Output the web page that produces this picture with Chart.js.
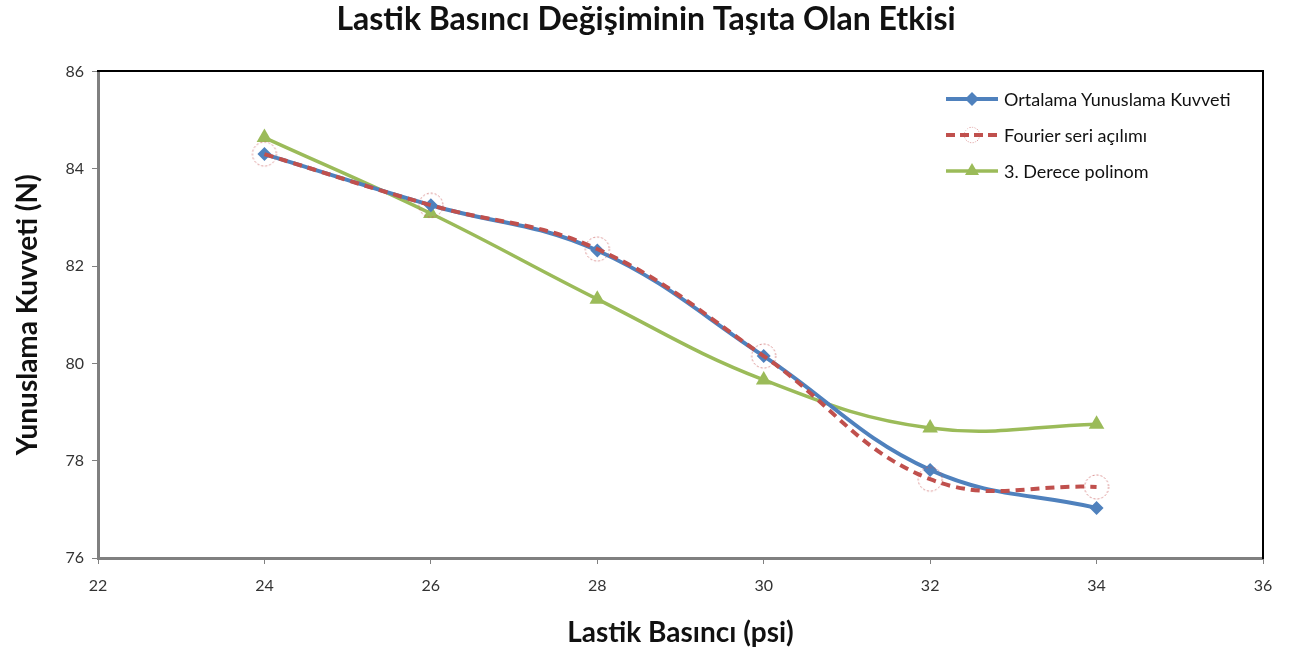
<!DOCTYPE html>
<html>
<head>
<meta charset="utf-8">
<script src="https://cdn.jsdelivr.net/npm/chart.js@4.4.0/dist/chart.umd.min.js"></script>
<style>
  html, body { margin: 0; padding: 0; background: #fff; }
  #wrap { position: relative; width: 1292px; height: 654px; }
  #legend { position: absolute; left: 944px; top: 81px; font-family: Lato, sans-serif; font-size: 18px; color: #111; }
  #legend div { height: 36px; display: flex; align-items: center; }
  #legend canvas { margin-right: 4px; }
</style>
</head>
<body>
<div id="wrap">
  <canvas id="chart" width="1292" height="654"></canvas>
  <div id="legend"></div>
</div>
<script>
// Tyre pressure (psi)
const pressures = [24, 26, 28, 30, 32, 34];
// Series values
const meanForce = [84.30, 83.25, 82.32, 80.15, 77.81, 77.03];
const fourierFit = [84.30, 83.25, 82.35, 80.15, 77.62, 77.46];
const cubicFit = [84.64, 83.08, 81.32, 79.66, 78.67, 78.75];

const xTicks = [22, 24, 26, 28, 30, 32, 34, 36];
const yTicks = [76, 78, 80, 82, 84, 86];

const seriesNames = ["Ortalama Yunuslama Kuvveti", "Fourier seri açılımı", "3. Derece polinom"];

const BLUE = "#4F81BD";
const RED = "#C0504D";
const GREEN = "#9BBB59";

// Dotted circle used as the Fourier marker
function dottedCircle(r) {
    const c = document.createElement("canvas");
    c.width = c.height = 2 * r + 4;
    const g = c.getContext("2d");
    g.strokeStyle = "rgba(200,90,90,0.7)";
    g.lineWidth = 1;
    g.setLineDash([2, 2]);
    g.beginPath();
    g.arc(r + 2, r + 2, r, 0, Math.PI * 2);
    g.stroke();
    return c;
}
const circleMarker = dottedCircle(12);

function toPoints(ys) {
    return pressures.map((x, i) => ({ x: x, y: ys[i] }));
}

const datasets = [
    {
        label: seriesNames[0],
        data: toPoints(meanForce),
        borderColor: BLUE,
        backgroundColor: BLUE,
        borderWidth: 4,
        pointStyle: "rectRot",
        pointRadius: 7,
        pointBorderWidth: 0,
        tension: 0.4,
        order: 2
    },
    {
        label: seriesNames[1],
        data: toPoints(fourierFit),
        borderColor: RED,
        borderWidth: 4,
        borderDash: [9, 6],
        pointStyle: circleMarker,
        tension: 0.4,
        order: 1
    },
    {
        label: seriesNames[2],
        data: toPoints(cubicFit),
        borderColor: GREEN,
        backgroundColor: GREEN,
        borderWidth: 3.5,
        pointStyle: "triangle",
        pointRadius: 9,
        pointBorderWidth: 0,
        tension: 0.4,
        order: 3
    }
];

const tickFont = { family: "Lato", size: 16 };
const titleFont = { family: "Lato", size: 28, weight: "bold" };

const config = {
    type: "line",
    data: { datasets: datasets },
    options: {
        responsive: false,
        animation: false,
        layout: { padding: 0 },
        plugins: {
            legend: { display: false },
            tooltip: { enabled: false },
            title: {
                display: true,
                text: "Lastik Basıncı Değişiminin Taşıta Olan Etkisi",
                color: "#111",
                font: { family: "Lato", size: 32, weight: "bold" },
                padding: { top: 0, bottom: 0 }
            }
        },
        scales: {
            x: {
                type: "linear",
                min: 22, max: 36,
                afterBuildTicks: s => { s.ticks = xTicks.map(v => ({ value: v })); },
                afterFit: s => { s.height = 96; },
                border: { color: "#808080", width: 3 },
                grid: { drawOnChartArea: false, tickLength: 6, color: "#808080" },
                ticks: { color: "#333", font: tickFont, padding: 12 },
                title: {
                    display: true,
                    text: "Lastik Basıncı (psi)",
                    color: "#111",
                    font: titleFont,
                    padding: { top: 0, bottom: 4 }
                }
            },
            y: {
                min: 76, max: 86,
                afterBuildTicks: s => { s.ticks = yTicks.map(v => ({ value: v })); },
                afterFit: s => { s.width = 98; },
                border: { color: "#808080", width: 3 },
                grid: { drawOnChartArea: false, tickLength: 6, color: "#808080" },
                ticks: { color: "#333", font: tickFont, padding: 8 },
                title: {
                    display: true,
                    text: "Yunuslama Kuvveti (N)",
                    color: "#111",
                    font: titleFont,
                    padding: { top: 11, bottom: 0 }
                }
            },
            x2: {
                type: "linear",
                position: "top",
                min: 22, max: 36,
                afterFit: s => { s.height = 33; },
                border: { color: "#000", width: 2 },
                grid: { display: false },
                ticks: { display: false }
            },
            y2: {
                position: "right",
                min: 76, max: 86,
                afterFit: s => { s.width = 29; },
                border: { color: "#000", width: 2 },
                grid: { display: false },
                ticks: { display: false }
            }
        }
    }
};

const ctx = document.getElementById("chart").getContext("2d");
const chart = new Chart(ctx, config);

// Legend with line + marker icons
function legendIcon(i) {
    const c = document.createElement("canvas");
    c.width = 56; c.height = 24;
    const g = c.getContext("2d");
    const ds = datasets[i];
    g.strokeStyle = ds.borderColor;
    g.lineWidth = ds.borderWidth;
    if (ds.borderDash) g.setLineDash([9, 5]);
    g.beginPath(); g.moveTo(2, 12); g.lineTo(54, 12); g.stroke();
    g.setLineDash([]);
    if (i === 0) {
        g.fillStyle = BLUE;
        g.beginPath(); g.moveTo(28, 5); g.lineTo(35, 12); g.lineTo(28, 19); g.lineTo(21, 12); g.closePath(); g.fill();
    } else if (i === 1) {
        g.drawImage(circleMarker, 28 - 9, 12 - 9, 18, 18);
    } else {
        g.fillStyle = GREEN;
        g.beginPath(); g.moveTo(28, 4); g.lineTo(35, 16); g.lineTo(21, 16); g.closePath(); g.fill();
    }
    return c;
}

const legendEl = document.getElementById("legend");
seriesNames.forEach((name, i) => {
    const row = document.createElement("div");
    row.appendChild(legendIcon(i));
    const span = document.createElement("span");
    span.textContent = name;
    row.appendChild(span);
    legendEl.appendChild(row);
});
</script>
</body>
</html>
